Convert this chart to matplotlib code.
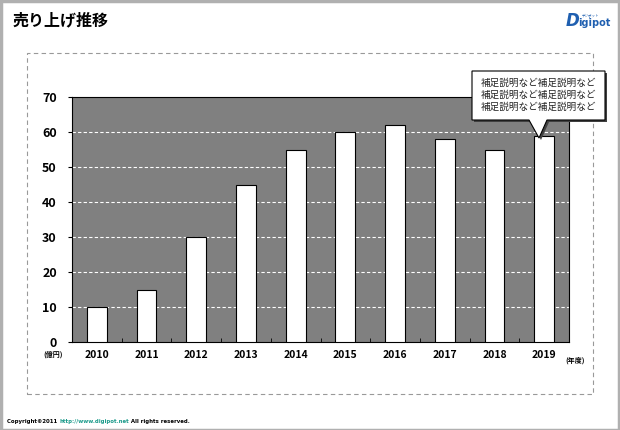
import matplotlib
matplotlib.use("Agg")
import matplotlib.pyplot as plt
from matplotlib.patches import Rectangle, Polygon

plt.rcParams['font.family'] = ['Noto Sans CJK JP', 'DejaVu Sans']

years = ['2010', '2011', '2012', '2013', '2014', '2015', '2016', '2017', '2018', '2019']
sales = [10, 15, 30, 45, 55, 60, 62, 58, 55, 59]
yticks = [0, 10, 20, 30, 40, 50, 60, 70]
title = '売り上げ推移'
note_lines = ['補足説明など補足説明など', '補足説明など補足説明など', '補足説明など補足説明など']
y_unit = '(億円)'
x_unit = '(年度)'
copyright_parts = ['Copyright©2011 ', 'http://www.digipot.net', ' All rights reserved.']

W, H = 620, 430
fig = plt.figure(figsize=(6.2, 4.3), dpi=100)
fig.patch.set_facecolor('white')

def fx(px):
    return px / W

def fy(py):
    return 1 - py / H

# outer border
fig.patches.append(Rectangle((0.001, 0.001), 0.997, 0.997, transform=fig.transFigure,
                             fill=False, edgecolor='#b0b0b0', linewidth=2.5))
# dashed box
fig.patches.append(Rectangle((fx(27), fy(394)), fx(593 - 27), (394 - 53) / H,
                             transform=fig.transFigure, fill=False,
                             edgecolor='#999999', linestyle=(0, (4, 3)), linewidth=0.8))

ax = fig.add_axes([fx(72), fy(342), fx(569 - 72), (342 - 97) / H])
ax.set_facecolor('#808080')
x = list(range(len(years)))
ax.bar(x, sales, width=0.4, color='white', edgecolor='black', linewidth=0.8, zorder=3)
ax.set_xlim(-0.5, len(years) - 0.5)
ax.set_ylim(0, 70)
ax.set_yticks(yticks)
ax.set_yticklabels([str(v) for v in yticks], fontsize=9, fontweight='bold')
ax.set_xticks(x)
ax.set_xticklabels(years, fontsize=7.5, fontweight='bold')
ax.tick_params(axis='x', length=0, pad=6)
ax.tick_params(axis='y', length=3, direction='out', pad=8)
ax.set_xticks([i + 0.5 for i in x[:-1]], minor=True)
ax.tick_params(axis='x', which='minor', direction='in', length=3, color='black')
for v in yticks[1:-1]:
    ax.axhline(v, color='white', linestyle=(0, (3, 2)), linewidth=0.8, zorder=2)
for s in ax.spines.values():
    s.set_color('black')
    s.set_linewidth(0.8)

# title
fig.text(fx(13), fy(20), title, fontsize=11.5, fontweight='bold', va='center', ha='left')
# logo
fig.text(fx(566), fy(21), 'D', fontsize=12, fontweight='bold', style='italic',
         color='#1f5fb0', va='center', ha='left', family='DejaVu Sans')
fig.text(fx(578), fy(23), 'igipot', fontsize=7, fontweight='bold',
         color='#1f5fb0', va='center', ha='left', family='DejaVu Sans')
fig.text(fx(590), fy(15), 'デジポット', fontsize=2.5, color='#1f5fb0', va='center', ha='center')

# unit labels
fig.text(fx(53), fy(354), y_unit, fontsize=5, fontweight='bold', ha='center', va='center')
fig.text(fx(575), fy(360), x_unit, fontsize=5, fontweight='bold', ha='center', va='center')

# callout
shadow = Polygon([(fx(474), fy(73)), (fx(607), fy(73)), (fx(607), fy(122)), (fx(549), fy(122)),
                  (fx(541), fy(140)), (fx(531), fy(122)), (fx(474), fy(122))],
                 closed=True, transform=fig.transFigure, facecolor='#404040',
                 edgecolor='none', zorder=9)
box = Polygon([(fx(472), fy(71)), (fx(605), fy(71)), (fx(605), fy(120)), (fx(547), fy(120)),
               (fx(539), fy(138)), (fx(529), fy(120)), (fx(472), fy(120))],
              closed=True, transform=fig.transFigure, facecolor='white',
              edgecolor='black', linewidth=0.8, zorder=10)
fig.patches.append(shadow)
fig.patches.append(box)
for i, line in enumerate(note_lines):
    fig.text(fx(538.5), fy(83 + i * 12), line, fontsize=6.9, ha='center', va='center',
             color='#222222', zorder=11)

# copyright (chained texts)
renderer = fig.canvas.get_renderer()
xpos = 7
colors = ['black', '#1a9a8a', 'black']
for part, c in zip(copyright_parts, colors):
    t = fig.text(fx(xpos), fy(422), part, fontsize=3.9, fontweight='bold', color=c,
                 ha='left', va='center', family='DejaVu Sans')
    bb = t.get_window_extent(renderer)
    xpos += bb.width

fig.savefig('out.png', dpi=100)
